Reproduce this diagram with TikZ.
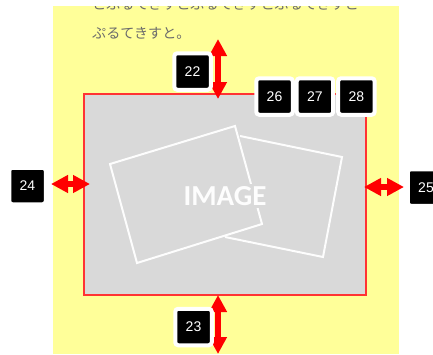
\documentclass[tikz,border=0pt]{standalone}
\usepackage{fontspec}
\usetikzlibrary{arrows.meta}
\setmainfont{Liberation Sans}
\newfontfamily\jpfont{Noto Sans CJK JP}
\newfontfamily\imgfont{Carlito}
\definecolor{pageyellow}{HTML}{FFFF99}
\definecolor{framegrey}{HTML}{D9D9D9}
\definecolor{framered}{HTML}{FF3333}

\begin{document}
\begin{tikzpicture}[
x=1pt, y=-1pt,
badge/.style={rectangle, rounded corners=3pt, fill=black, draw=white, line width=4pt, minimum size=36.5pt, inner sep=0pt, text=white, font=\fontsize{14}{14}\selectfont},
gap/.style={{Triangle[length=17pt,width=17pt]}-{Triangle[length=17pt,width=17pt]}, red, line width=5.5pt},
photo/.style={draw=white!95!framegrey, line width=2pt, line join=miter},
frame/.style={rectangle, draw=framered, fill=framegrey, line width=1.5pt, minimum width=282pt, minimum height=201pt, inner sep=0pt},
copytext/.style={anchor=west, inner sep=0pt, text=black!58, font=\jpfont\fontsize{14.1}{14.1}\selectfont}
]
\useasboundingbox (0,0) rectangle (433,354);
%Page
\fill[white] (0,0) rectangle (433,354);
\fill[pageyellow] (53,6) rectangle (399,354);
\begin{scope}
\clip (53,6) rectangle (399,354);
\node[copytext] (line1) at (92,4.5) {とぷるてきすとぷるてきすとぷるてきすと};
\node[copytext] (line2) at (92,33) {ぷるてきすと。};
\end{scope}
%Image
\node[frame] (image) at (225,194.5) {};
\draw[photo] (240,136) -- (342,157) -- (323,257) -- (225,237);
\draw[photo] (110,164) -- (235,126) -- (262,224) -- (137,263) -- cycle;
\node[fill=framegrey, inner sep=2pt, text=white!95!framegrey, font=\imgfont\bfseries\fontsize{29}{29}\selectfont] (imagetext) at (225,196) {IMAGE};
%Ends
\coordinate (top1) at (218,39);
\coordinate (top2) at (218,99);
\coordinate (bottom1) at (218,295);
\coordinate (bottom2) at (218,354);
\coordinate (left1) at (51,184);
\coordinate (left2) at (90,184);
\coordinate (right1) at (364,187);
\coordinate (right2) at (404,187);
%Lines
\draw[gap] (top1) -- (top2);
\draw[gap] (bottom1) -- (bottom2);
\draw[gap] (left1) -- (left2);
\draw[gap] (right1) -- (right2);
%Nodes
\node[badge] (n22) at (192.5,71.5) {22};
\node[badge] (n23) at (193.5,327) {23};
\node[badge] (n24) at (27.5,186) {24};
\node[badge] (n25) at (426,187.5) {25};
\node[badge] (n26) at (274.5,96.5) {26};
\node[badge] (n27) [right of =n26, xshift=12pt] {27};
\node[badge] (n28) [right of =n27, xshift=13pt] {28};
\end{tikzpicture}
\end{document}
